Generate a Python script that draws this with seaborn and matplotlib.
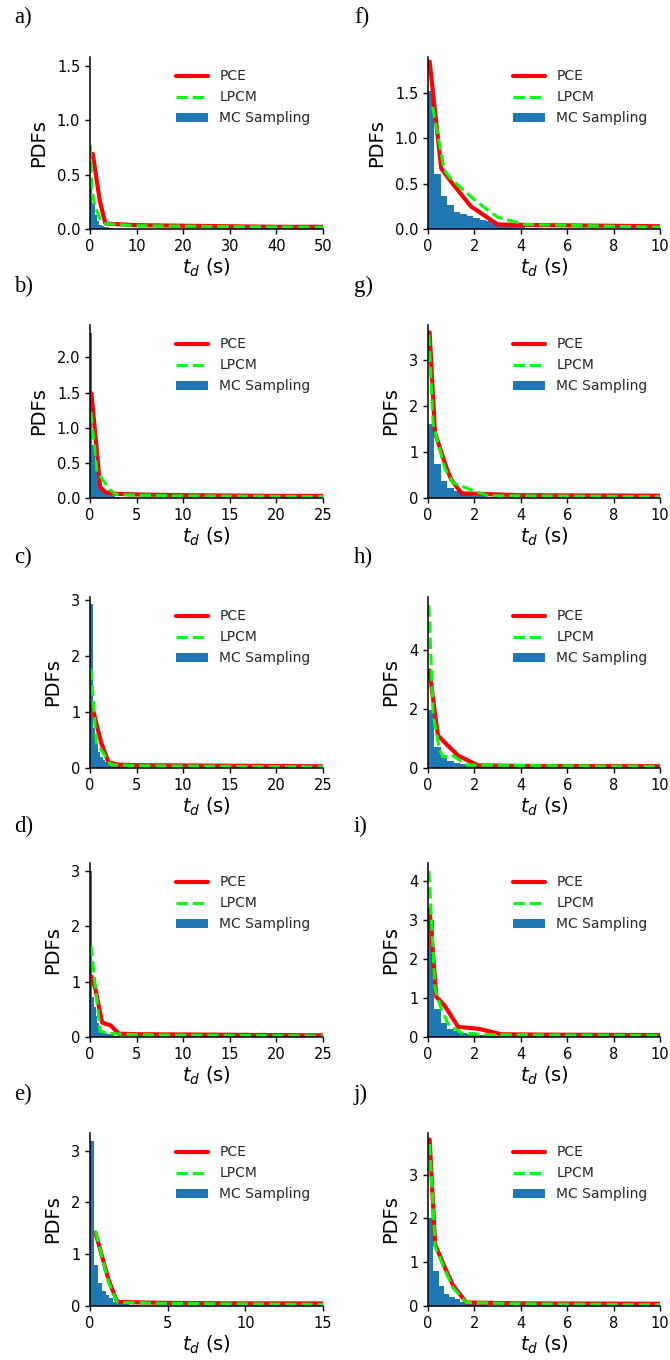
import numpy as np
import pandas as pd
import matplotlib
matplotlib.use("Agg")
import matplotlib.pyplot as plt
import seaborn as sns

# ---------------- data ----------------
panel_letters = ["a)", "b)", "c)", "d)", "e)", "f)", "g)", "h)", "i)", "j)"]

# x-axis extents and ticks
xticks_a = [0, 10, 20, 30, 40, 50]
xticks_bcd = [0, 5, 10, 15, 20, 25]
xticks_e = [0, 5, 10, 15]
xticks_fj = [0, 2, 4, 6, 8, 10]

yticks_a = [0.0, 0.5, 1.0, 1.5]
yticks_b = [0.0, 0.5, 1.0, 1.5, 2.0]
yticks_cde = [0, 1, 2, 3]
yticks_f = [0.0, 0.5, 1.0, 1.5]
yticks_g = [0, 1, 2, 3]
yticks_h = [0, 2, 4]
yticks_i = [0, 1, 2, 3, 4]
yticks_j = [0, 1, 2, 3]

ytop = [1.58, 2.46, 3.05, 3.14, 3.34, 1.90, 3.76, 5.78, 4.47, 3.95]

# PCE curves
pce_x_a = [0.6, 2.1, 3.3, 10, 20, 30, 40, 50]
pce_y_a = [0.69, 0.26, 0.05, 0.035, 0.03, 0.025, 0.02, 0.02]
pce_x_b = [0.15, 1.1, 1.7, 2.6, 5, 10, 15, 20, 25]
pce_y_b = [1.49, 0.15, 0.08, 0.06, 0.05, 0.04, 0.035, 0.03, 0.03]
pce_x_c = [0.2, 1.2, 2.0, 3, 5, 25]
pce_y_c = [1.12, 0.45, 0.1, 0.06, 0.05, 0.03]
pce_x_d = [0.18, 0.6, 1.3, 2.2, 3.1, 5, 25]
pce_y_d = [1.09, 0.85, 0.26, 0.21, 0.06, 0.05, 0.03]
pce_x_e = [0.35, 1.2, 1.75, 3, 5, 10, 15]
pce_y_e = [1.42, 0.5, 0.08, 0.07, 0.06, 0.05, 0.05]
pce_x_f = [0.07, 0.57, 1.0, 1.85, 3.0, 4.2, 10]
pce_y_f = [1.85, 0.67, 0.52, 0.25, 0.05, 0.045, 0.03]
pce_x_g = [0.07, 0.3, 0.8, 1.0, 1.45, 2.2, 4, 10]
pce_y_g = [3.6, 1.42, 0.65, 0.4, 0.1, 0.09, 0.06, 0.05]
pce_x_h = [0.07, 0.2, 0.43, 0.8, 1.3, 2.15, 4, 10]
pce_y_h = [3.3, 2.45, 1.1, 0.8, 0.42, 0.09, 0.07, 0.06]
pce_x_i = [0.07, 0.36, 0.7, 1.3, 2.2, 3.15, 5, 10]
pce_y_i = [3.27, 1.03, 0.82, 0.26, 0.21, 0.07, 0.06, 0.05]
pce_x_j = [0.07, 0.31, 0.71, 1.07, 1.65, 4, 10]
pce_y_j = [3.8, 1.4, 0.9, 0.48, 0.08, 0.06, 0.05]

# LPCM curves
lpcm_x_a = [0.07, 0.4, 1.0, 2.2, 3.3, 10, 50]
lpcm_y_a = [0.77, 0.36, 0.22, 0.085, 0.05, 0.03, 0.015]
lpcm_x_b = [0.1, 0.75, 2.1, 2.8, 5, 10, 25]
lpcm_y_b = [1.22, 0.38, 0.12, 0.05, 0.04, 0.03, 0.02]
lpcm_x_c = [0.1, 0.7, 1.1, 2.2, 5, 25]
lpcm_y_c = [1.77, 0.4, 0.35, 0.06, 0.04, 0.02]
lpcm_x_d = [0.1, 0.45, 1.1, 2.5, 5, 25]
lpcm_y_d = [1.66, 1.1, 0.1, 0.06, 0.04, 0.02]
lpcm_x_e = [0.35, 1.2, 1.75, 5, 15]
lpcm_y_e = [1.45, 0.45, 0.07, 0.05, 0.03]
lpcm_x_f = [0.2, 0.7, 1.0, 2.1, 3.0, 4.2, 10]
lpcm_y_f = [1.35, 0.65, 0.55, 0.3, 0.13, 0.05, 0.02]
lpcm_x_g = [0.04, 0.22, 0.72, 1.07, 2.0, 2.6, 10]
lpcm_y_g = [3.55, 1.6, 0.65, 0.33, 0.15, 0.05, 0.03]
lpcm_x_h = [0.04, 0.22, 0.5, 0.65, 1.05, 1.7, 10]
lpcm_y_h = [5.5, 1.8, 0.6, 0.38, 0.42, 0.1, 0.05]
lpcm_x_i = [0.04, 0.3, 0.57, 0.86, 1.45, 2.5, 10]
lpcm_y_i = [4.26, 1.25, 0.73, 0.34, 0.1, 0.06, 0.04]
lpcm_x_j = [0.07, 0.31, 0.71, 1.07, 1.65, 4, 10]
lpcm_y_j = [3.7, 1.35, 0.85, 0.42, 0.08, 0.05, 0.03]

# MC sampling histograms (bin width, densities of consecutive bins from 0)
mc_w_a, mc_h_a = 0.5, [0.42, 0.24, 0.13, 0.07, 0.04, 0.03, 0.02, 0.015, 0.01, 0.01]
mc_w_b, mc_h_b = 0.18, [2.35, 0.75, 0.72, 0.45, 0.36, 0.25, 0.18, 0.13, 0.1, 0.08,
                        0.06, 0.05, 0.04, 0.03, 0.025, 0.02, 0.015, 0.01]
mc_w_c, mc_h_c = 0.27, [2.93, 0.72, 0.42, 0.28, 0.2, 0.14, 0.1, 0.08, 0.06, 0.05,
                        0.04, 0.03, 0.02, 0.015, 0.01]
mc_w_d, mc_h_d = 0.2, [2.99, 0.72, 0.55, 0.37, 0.25, 0.18, 0.12, 0.1, 0.08, 0.06,
                       0.05, 0.04, 0.03, 0.02, 0.02, 0.01]
mc_w_e, mc_h_e = 0.25, [3.19, 0.79, 0.45, 0.28, 0.21, 0.15, 0.08, 0.05, 0.04, 0.03,
                        0.02, 0.02, 0.01]
mc_w_f, mc_h_f = 0.28, [1.52, 0.61, 0.37, 0.27, 0.19, 0.165, 0.14, 0.12, 0.1, 0.085,
                        0.065, 0.05, 0.04, 0.03, 0.02, 0.015, 0.01]
mc_w_g, mc_h_g = 0.28, [1.6, 0.74, 0.36, 0.22, 0.16, 0.1, 0.07, 0.05, 0.04, 0.03, 0.02, 0.01]
mc_w_h, mc_h_h = 0.28, [1.95, 0.7, 0.36, 0.25, 0.18, 0.12, 0.09, 0.06, 0.04, 0.03, 0.02, 0.01]
mc_w_i, mc_h_i = 0.28, [3.0, 0.73, 0.37, 0.21, 0.15, 0.1, 0.08, 0.06, 0.04, 0.03, 0.02, 0.01]
mc_w_j, mc_h_j = 0.23, [2.0, 0.79, 0.46, 0.27, 0.2, 0.15, 0.1, 0.07, 0.05, 0.03, 0.02, 0.01]

# ---------------- style ----------------
sns.set_style("ticks")
plt.rcParams["font.family"] = ["DejaVu Sans"]
plt.rcParams["axes.edgecolor"] = "black"
plt.rcParams["xtick.color"] = "black"
plt.rcParams["ytick.color"] = "black"
plt.rcParams["text.color"] = "#262626"
plt.rcParams["axes.labelcolor"] = "black"

W, H = 670, 1360
fig = plt.figure(figsize=(W / 100, H / 100), dpi=100)

col_left = [90, 428]
col_width = [233, 232]
row_top = [57, 325, 597, 863, 1133]
row_bottom = [229, 498, 768, 1037, 1306]
label_y = [17, 286, 557, 826, 1094]
label_x = [14, 354]

pce_x = [pce_x_a, pce_x_b, pce_x_c, pce_x_d, pce_x_e, pce_x_f, pce_x_g, pce_x_h, pce_x_i, pce_x_j]
pce_y = [pce_y_a, pce_y_b, pce_y_c, pce_y_d, pce_y_e, pce_y_f, pce_y_g, pce_y_h, pce_y_i, pce_y_j]
lpcm_x = [lpcm_x_a, lpcm_x_b, lpcm_x_c, lpcm_x_d, lpcm_x_e, lpcm_x_f, lpcm_x_g, lpcm_x_h, lpcm_x_i, lpcm_x_j]
lpcm_y = [lpcm_y_a, lpcm_y_b, lpcm_y_c, lpcm_y_d, lpcm_y_e, lpcm_y_f, lpcm_y_g, lpcm_y_h, lpcm_y_i, lpcm_y_j]
mc_w = [mc_w_a, mc_w_b, mc_w_c, mc_w_d, mc_w_e, mc_w_f, mc_w_g, mc_w_h, mc_w_i, mc_w_j]
mc_h = [mc_h_a, mc_h_b, mc_h_c, mc_h_d, mc_h_e, mc_h_f, mc_h_g, mc_h_h, mc_h_i, mc_h_j]
xticks = [xticks_a, xticks_bcd, xticks_bcd, xticks_bcd, xticks_e] + [xticks_fj] * 5
yticks = [yticks_a, yticks_b, yticks_cde, yticks_cde, yticks_cde,
          yticks_f, yticks_g, yticks_h, yticks_i, yticks_j]

for k in range(10):
    col, row = divmod(k, 5)
    x0 = col_left[col]
    w = col_width[col]
    top, bot = row_top[row], row_bottom[row]
    ax = fig.add_axes([x0 / W, 1 - bot / H, w / W, (bot - top) / H])

    heights = list(mc_h[k])
    edges = [i * mc_w[k] for i in range(len(heights) + 1)]
    centers = [e + mc_w[k] / 2 for e in edges[:-1]]
    mc_df = pd.DataFrame({"t": centers, "dens": heights})
    sns.histplot(data=mc_df, x="t", weights="dens", bins=edges, stat="count",
                 color="#1f77b4", alpha=1.0, linewidth=0, ax=ax,
                 label="MC Sampling")
    sns.lineplot(x=pce_x[k], y=pce_y[k], color="#ff0000", linewidth=3.0,
                 estimator=None, sort=False, ax=ax, label="PCE")
    sns.lineplot(x=lpcm_x[k], y=lpcm_y[k], color="#00ff00", linewidth=2.2,
                 linestyle="--", estimator=None, sort=False, ax=ax, label="LPCM")

    ax.set_xlim(xticks[k][0], xticks[k][-1])
    ax.set_ylim(0, ytop[k])
    ax.set_xticks(xticks[k])
    ax.set_yticks(yticks[k])
    ax.tick_params(labelsize=10.5, width=1.0, length=3.5)
    for s in ["left", "bottom"]:
        ax.spines[s].set_linewidth(1.1)
    sns.despine(ax=ax)
    ax.set_xlabel(r"$t_d$ (s)", fontsize=14, labelpad=2)
    ax.set_ylabel("PDFs", fontsize=14, labelpad=6)

    handles, labels = ax.get_legend_handles_labels()
    order = [labels.index(n) for n in ["PCE", "LPCM", "MC Sampling"]]
    ax.legend([handles[i] for i in order], [labels[i] for i in order],
              loc="upper right", frameon=False, fontsize=10, handlelength=2.3)

    fig.text(label_x[col] / W, 1 - label_y[row] / H, panel_letters[k],
             family="Liberation Serif", fontsize=16.5, va="center", ha="left",
             color="black")

fig.savefig("out.png", dpi=100, facecolor="white")
